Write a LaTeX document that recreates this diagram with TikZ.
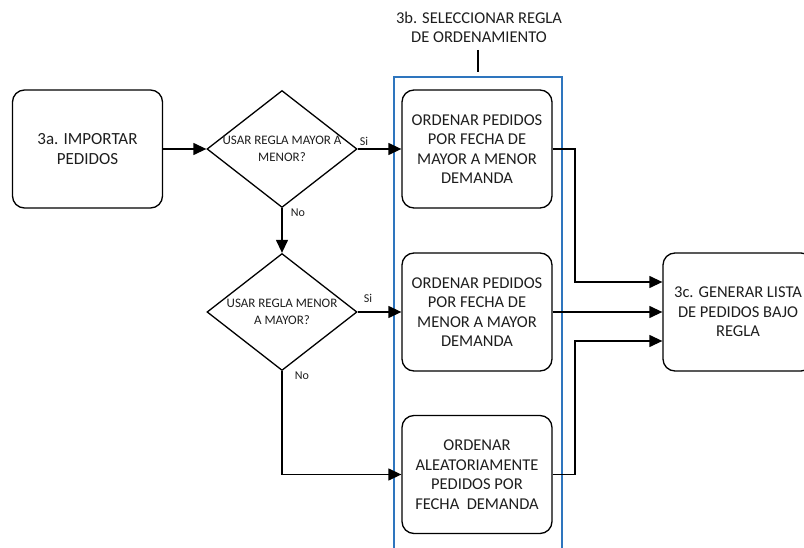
\documentclass[tikz,border=0pt]{standalone}
\usepackage{fontspec}
\setmainfont{Carlito}
\usetikzlibrary{shapes.geometric,arrows.meta,positioning}
\definecolor{ink}{RGB}{30,30,30}
\definecolor{lane}{RGB}{46,117,190}
\tikzset{
  flow/.style={line width=1.3pt, draw=black},
  arrowline/.style={flow, -{Triangle[length=13pt,width=12pt]}},
  procbox/.style={draw=black, line width=1.3pt, rounded corners=12pt,
    minimum width=150pt, minimum height=118pt, inner sep=0pt,
    align=center, text=ink, font=\fontsize{16.5}{19.5}\selectfont},
  decision/.style={diamond, draw=black, line width=1.3pt,
    minimum width=150pt, minimum height=117pt, inner sep=0pt},
  dtext/.style={align=center, text=ink, font=\fontsize{13}{17}\selectfont},
  small/.style={text=ink, font=\fontsize{12}{13}\selectfont, inner sep=0pt},
  title/.style={align=center, text=ink, font=\fontsize{16.5}{19}\selectfont, inner sep=0pt},
}
\begin{document}
\begin{tikzpicture}[x=1pt, y=-1pt]
\useasboundingbox (0,0) rectangle (804,548);
\clip (0,0) rectangle (804,548);

% swimlane for step 3b
\draw[draw=lane, line width=1.4pt] (394,600) -- (394,77) -- (562,77) -- (562,600);
\node[title] (lanetitle) at (479,27) {3b. SELECCIONAR REGLA\\DE ORDENAMIENTO};
\coordinate (lanetick) at (478,72);
\draw[flow] (478,50) -- (lanetick);

% process boxes
\node[procbox, font=\fontsize{17}{20}\selectfont] (imp) at (87.5,149) {3a. IMPORTAR\\PEDIDOS};
\node[procbox] (ordA) at (477,149) {ORDENAR PEDIDOS\\POR FECHA DE\\MAYOR A MENOR\\DEMANDA};
\node[procbox] (ordB) at (477,312) {ORDENAR PEDIDOS\\POR FECHA DE\\MENOR A MAYOR\\DEMANDA};
\node[procbox] (ordC) at (477,474.5) {ORDENAR\\ALEATORIAMENTE\\PEDIDOS POR\\FECHA\ \ DEMANDA};
\node[procbox] (gen) at (738,312) {3c. GENERAR LISTA\\DE PEDIDOS BAJO\\REGLA};

% decisions
\node[decision, label={[dtext]center:USAR REGLA MAYOR A\\MENOR?}] (qA) at (282,149) {};
\node[decision, label={[dtext]center:USAR REGLA MENOR\\A MAYOR?}] (qB) at (282,312) {};

% branch labels
\node[small] (siA) at (364,141) {Si};
\node[small] (noA) at (298,213) {No};
\node[small] (siB) at (368,298) {Si};
\node[small] (noB) at (302,376) {No};

% junction points towards 3c
\coordinate (jA) at (575,149);
\coordinate (jC) at (575,474.5);

% connectors
\draw[arrowline] (imp.east) -- (qA.west);
\draw[arrowline] (qA.east) -- (ordA.west);
\draw[arrowline] (qA.south) -- (qB.north);
\draw[arrowline] (qB.east) -- (ordB.west);
\draw[arrowline] (qB.south) |- (ordC.west);
\draw[arrowline] (ordA.east) -- (jA) |- ([yshift=30pt]gen.west);
\draw[arrowline] (ordB.east) -- (gen.west);
\draw[arrowline] (ordC.east) -- (jC) |- ([yshift=-29pt]gen.west);
\end{tikzpicture}
\end{document}
